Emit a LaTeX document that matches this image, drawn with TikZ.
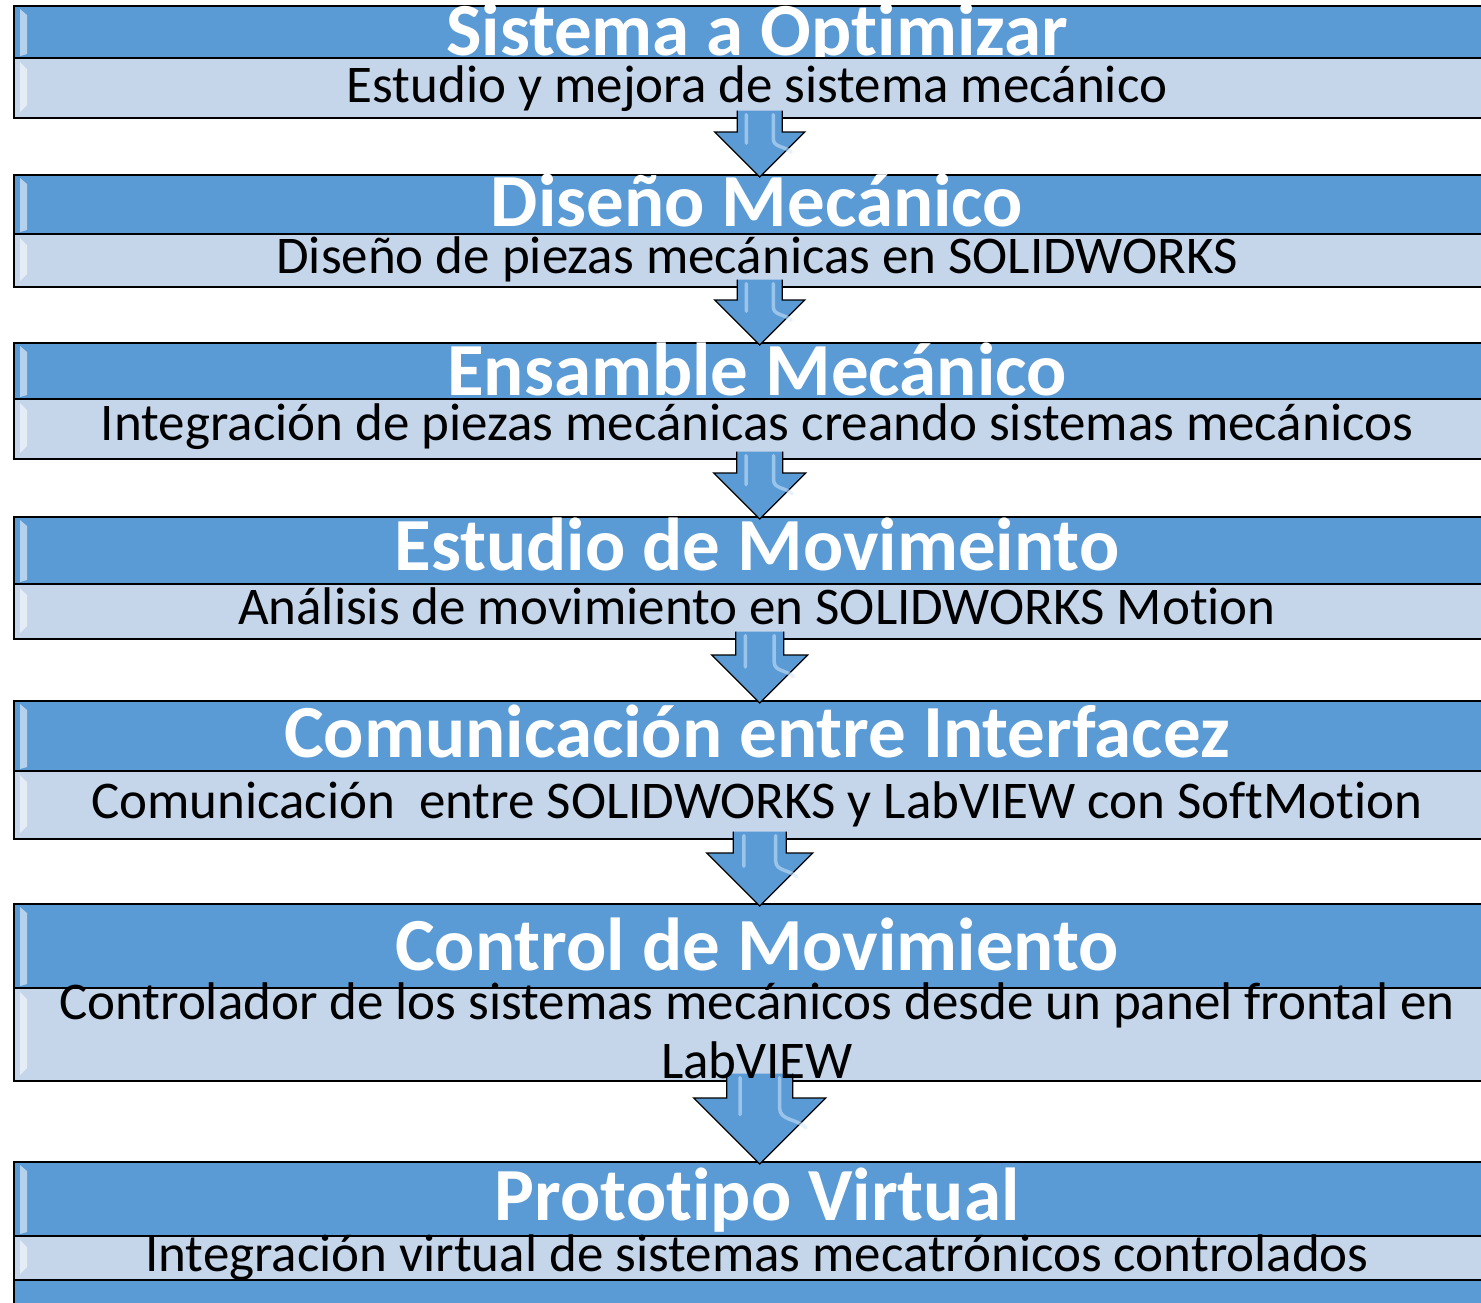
\documentclass[tikz,border=0pt]{standalone}
\usepackage{fontspec}
\setmainfont{Carlito}[Ligatures=NoCommon]
\usetikzlibrary{calc}
\definecolor{azuloscuro}{HTML}{5B9BD5}
\definecolor{azulclaro}{HTML}{C5D5EA}
\definecolor{brilloazul}{HTML}{CFE6FA}
\tikzset{
  barra/.style={draw=black,line width=1.6pt,inner sep=0pt,minimum width=1492pt,anchor=north west},
  bisel/.style={fill=white,fill opacity=0.55,draw=none},
  flecha/.style={fill=azuloscuro,draw=black,line width=1.3pt,line join=miter},
  reflejo/.style={draw=brilloazul,line width=3.5pt,opacity=0.55,line cap=round},
  textotitulo/.style={anchor=base,text=white,inner sep=0pt,font=\bfseries\fontsize{75}{90}\selectfont},
  textosub/.style={anchor=base,text=black,inner sep=0pt,align=center,font=\fontsize{53}{59}\selectfont},
}

\begin{document}
\begin{tikzpicture}[x=1pt,y=-1pt]
  \useasboundingbox (0,0) rectangle (1481,1302);
  \clip (0,0) rectangle (1481,1302);

  % barras: titulo (oscura) y descripcion (clara)
  \foreach \i/\ya/\yb/\yc/\yd/\ybt/\titulo in {
    1/5/57/117/117/55/{Sistema a Optimizar},
    2/174/233/286/286/226/{Diseño Mecánico},
    3/342/398/458/458/395/{Ensamble Mecánico},
    4/516/583/638/638/570/{Estudio de Movimeinto},
    5/700/770/838/838/757/{Comunicación entre Interfacez},
    6/903/987/1080/1080/970/{Control de Movimiento},
    7/1161/1235/1279/1330/1220/{Prototipo Virtual}} {
    \node[barra,fill=azuloscuro,minimum height={\yd-\ya}] (t\i) at (13,\ya) {};
    \fill[bisel] (20,\ya+4) -- (27,\ya+10) -- (27,\yb-3) -- (20,\yb-1) -- cycle;
    \node[textotitulo] (tt\i) at (757,\ybt) {\titulo};
    \node[barra,fill=azulclaro,minimum height={\yc-\yb}] (s\i) at (13,\yb) {};
    \fill[bisel] (20,\yb+5) -- (27,\yb+12) -- (27,\yc-12) -- (20,\yc-5) -- cycle;
  }

  % flechas entre bloques
  \foreach \i/\j/\h in {1/2/45,2/3/45,3/4/46,4/5/48,5/6/53,6/7/66} {
    \path[flecha] let \p1=(s\i.south), \p2=(t\j.north) in
      ({\x1-\h*0.5pt},{\y1+8pt}) -- ({\x1-\h*0.5pt},{\y2-3pt+\h*1pt})
      -- ({\x1-\h*1pt},{\y2-3pt+\h*1pt}) -- (\x1,{\y2-3pt})
      -- ({\x1+\h*1pt},{\y2-3pt+\h*1pt}) -- ({\x1+\h*0.5pt},{\y2-3pt+\h*1pt})
      -- ({\x1+\h*0.5pt},{\y1+8pt});
    \draw[reflejo] let \p1=(s\i.south), \p2=(t\j.north) in
      ({\x1-\h*0.3pt},{\y1+4pt}) -- ({\x1-\h*0.3pt},{\y2-3pt+\h*0.75pt})
      ({\x1+\h*0.3pt},{\y1+4pt}) -- ({\x1+\h*0.3pt},{\y2-3pt+\h*0.85pt})
      to[out=-90,in=135] ({\x1+\h*0.7pt},{\y2-3pt+\h*0.55pt});
  }

  % textos de descripcion
  \foreach \i/\ybs/\texto in {
    1/102/{Estudio y mejora de sistema mecánico},
    2/273/{Diseño de piezas mecánicas en SOLIDWORKS},
    3/440/{Integración de piezas mecánicas creando sistemas mecánicos},
    4/624/{Análisis de movimiento en SOLIDWORKS Motion},
    5/818/{Comunicación~ entre SOLIDWORKS y LabVIEW con SoftMotion},
    6/1078/{Controlador de los sistemas mecánicos desde un panel frontal en\\LabVIEW},
    7/1271/{Integración virtual de sistemas mecatrónicos controlados}} {
    \node[textosub] (st\i) at (757,\ybs) {\texto};
  }
\end{tikzpicture}
\end{document}
